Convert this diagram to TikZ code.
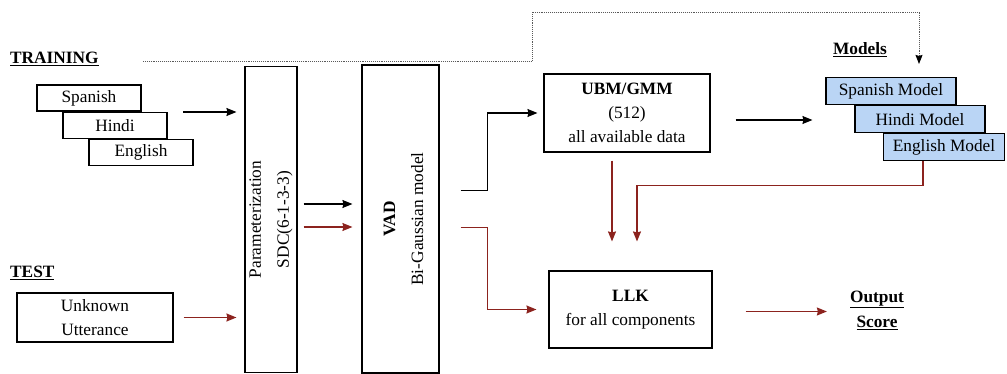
\documentclass[tikz,border=0pt]{standalone}
\usepackage{fontspec}
\setmainfont{Liberation Serif}
\usepackage{tikz}
\usetikzlibrary{positioning,arrows.meta,calc}
\usepackage{xcolor}

\definecolor{llkred}{RGB}{140,35,30}
\definecolor{modelblue}{RGB}{186,213,245}

\begin{document}
\begin{tikzpicture}[
  x=1pt, y=-1pt,
  font=\fontsize{17.3}{24}\selectfont,
  >={Stealth[length=10pt, width=8pt, inset=1pt]},
  box/.style={draw, line width=1.1pt, inner sep=0pt, align=center},
  lang/.style={box, minimum width=104pt, minimum height=26pt},
  model/.style={box, fill=modelblue, minimum width=130pt, minimum height=27pt},
  tag/.style={font=\fontsize{17.3}{25}\selectfont\bfseries, inner sep=0pt, align=center},
  vtext/.style={rotate=90, align=center, font=\fontsize{17.3}{28}\selectfont},
  link/.style={->, line width=1.2pt},
  redlink/.style={link, llkred, line width=1.3pt},
  dotlink/.style={-{Stealth[length=9pt, width=7pt, inset=1pt, black]}, densely dotted, gray!70!black, line width=0.9pt},
]
\useasboundingbox (0,0) rectangle (1007,374);

% Training data
\node[tag, anchor=west] (train) at (10,59) {\underline{TRAINING}};
\node[lang] (sp) at (89,98) {Spanish};
\node[lang, below=0pt of sp, xshift=26pt] (hi) {Hindi};
\node[lang, below=0pt of hi, xshift=26pt] (en) {English};

% Test data
\node[tag, anchor=west] (test) at (10,273) {\underline{TEST}};
\node[box, minimum width=156pt, minimum height=49pt] (unk) at (95,317.5) {Unknown\\Utterance};

% Front end
\node[box, minimum width=52pt, minimum height=306pt] (param) at (271,219.5) {};
\node[vtext] (paramtxt) at (param.center) {Parameterization\\SDC(6-1-3-3)};
\node[box, minimum width=77pt, minimum height=308pt] (vad) at (400.5,219) {};
\node[vtext] (vadtxt) at ([xshift=3pt]vad.center) {\textbf{VAD}\\Bi-Gaussian model};

% Back end
\node[box, minimum width=166pt, minimum height=78pt] (ubm) at (627,113) {\textbf{UBM/GMM}\\(512)\\all available data};
\node[box, minimum width=163pt, minimum height=77pt] (llk) at (630.5,309.5) {\textbf{LLK}\\for all components};

% Language models
\node[tag] (models) at (860,50) {\underline{Models}};
\node[model] (spm) at (891,91) {Spanish Model};
\node[model, below=0pt of spm, xshift=29pt] (him) {Hindi Model};
\node[model, below=0pt of him, xshift=24pt, minimum width=121pt] (enm) {English Model};

\node[tag] (out) at (877,310) {\underline{Output}\\\underline{Score}};

% Training path
\coordinate (trainout) at (183,112);
\draw[link, shorten >=8pt] (trainout) -- (trainout -| param.west);
\draw[redlink, shorten <=10pt, shorten >=8pt] (unk.east) -- (unk.east -| param.west);
\draw[link, shorten <=6pt, shorten >=9pt] ([yshift=15.5pt]param.east) -- ([yshift=15.5pt]param.east -| vad.west);
\draw[redlink, shorten <=6pt, shorten >=9pt] ([yshift=-7.5pt]param.east) -- ([yshift=-7.5pt]param.east -| vad.west);
\draw[link, shorten <=21pt, shorten >=6pt] ([yshift=28.5pt]vad.east) -- ++(48,0) |- (ubm.west);
\draw[redlink, shorten <=21pt, shorten >=12pt] ([yshift=-8.5pt]vad.east) -- ++(48,0) |- (llk.west);
\draw[link, shorten <=25pt, shorten >=13pt] ([yshift=-7pt]ubm.east) -- ([yshift=-7pt]ubm.east -| spm.west);

% Scoring path
\draw[redlink, shorten <=8pt, shorten >=29pt] ([xshift=-15pt]ubm.south) -- ([xshift=-15pt]ubm.south |- llk.north);
\draw[redlink, shorten >=29pt] ([xshift=-21pt]enm.south) -- ++(0,24) -| ([xshift=6.5pt]llk.north);
\draw[redlink, shorten <=33pt, shorten >=23pt] ([yshift=-2pt]llk.east) -- ([yshift=-2pt]llk.east -| out.west);

% Dotted path from training to models
\coordinate (dotstart) at (143,61);
\coordinate (dotturn) at (532,12);
\draw[dotlink, shorten >=13pt] (dotstart) -| (dotturn) -| ([xshift=28pt]spm.north);

\end{tikzpicture}
\end{document}
